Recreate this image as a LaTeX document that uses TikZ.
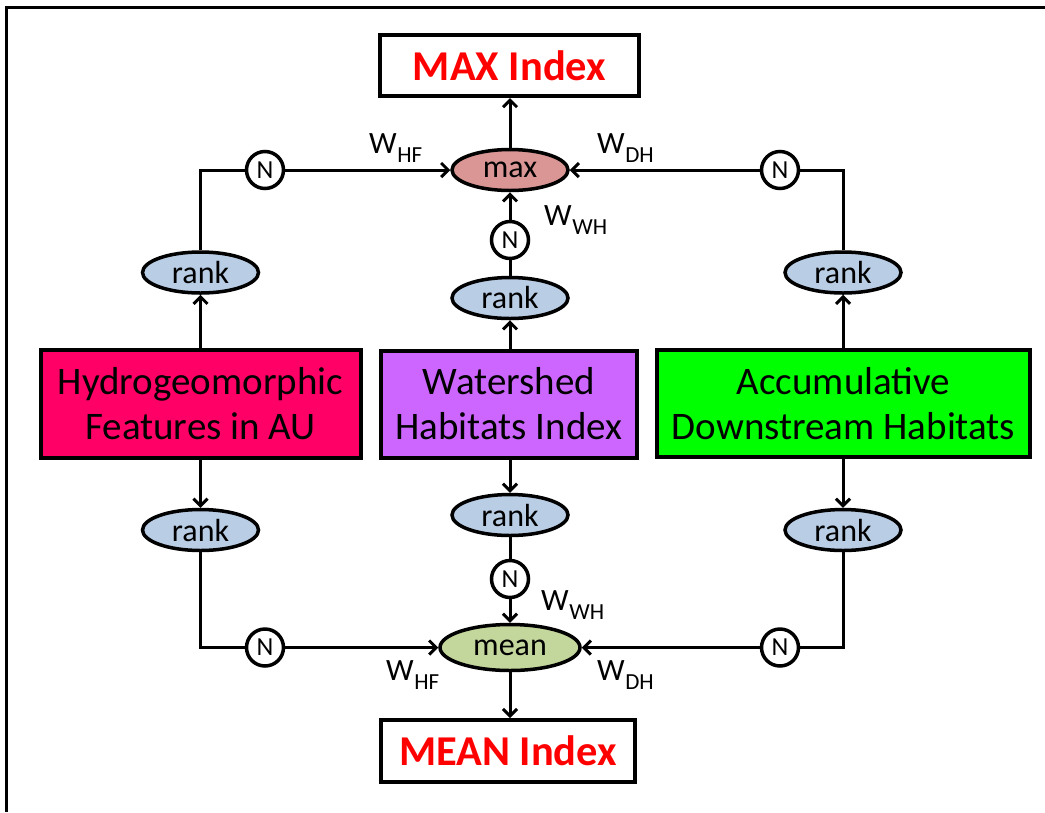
\documentclass[tikz,border=0pt]{standalone}
\usepackage{fontspec}
\setmainfont{Carlito}
\usetikzlibrary{arrows.meta,shapes.geometric}
\definecolor{hfpink}{HTML}{FF0066}
\definecolor{whpurple}{HTML}{CC66FF}
\definecolor{dhgreen}{HTML}{00FF00}
\definecolor{maxfill}{HTML}{D99694}
\definecolor{rankfill}{HTML}{B9CDE5}
\definecolor{meanfill}{HTML}{C3D69B}
\newcommand{\wlab}[1]{W\kern0.5pt\raisebox{-9pt}{\fontsize{23}{23}\selectfont #1}}
\begin{document}
\begin{tikzpicture}[x=1pt,y=-1pt,
  conn/.style={line width=3pt},
  arr/.style={conn,-{Straight Barb[length=7pt,width=14pt]}},
  srcbox/.style={draw,line width=4pt,rectangle,inner sep=0pt,align=center,
    font=\fontsize{39}{45}\selectfont},
  outbox/.style={draw,line width=4pt,rectangle,inner sep=0pt,fill=white,
    text=red,font=\fontsize{42.5}{45}\selectfont\bfseries},
  opnode/.style={draw,line width=3.5pt,ellipse,inner sep=0pt,
    font=\fontsize{32}{34}\selectfont},
  ranknode/.style={opnode,fill=rankfill,minimum width=116pt,minimum height=41pt},
  nnode/.style={draw,line width=3.5pt,circle,inner sep=0pt,minimum size=37pt,
    fill=white,font=\fontsize{26}{28}\selectfont},
  wnode/.style={anchor=base west,inner sep=0pt,font=\fontsize{31}{33}\selectfont}]
\useasboundingbox (0,0) rectangle (1045,812);
% outer frame, running off the right and bottom edges
\draw[line width=3.5pt] (6.5,812) -- (6.5,7.5) -- (1045,7.5);

% result boxes
\node[outbox,minimum width=259pt,minimum height=61pt] (maxidx) at (509.5,65.5) {MAX Index};
\node[outbox,minimum width=254pt,minimum height=62pt] (meanidx) at (508,751) {MEAN Index};

% source indices
\node[srcbox,fill=hfpink,minimum width=320pt,minimum height=108pt] (hf) at (200.5,404) {Hydrogeomorphic\\Features in AU};
\node[srcbox,fill=whpurple,minimum width=256pt,minimum height=107pt] (wh) at (509,404) {Watershed\\Habitats Index};
\node[srcbox,fill=dhgreen,minimum width=373pt,minimum height=107pt] (dh) at (843.5,403.5) {Accumulative\\Downstream Habitats};

% combination operators
\node[opnode,fill=maxfill,minimum width=116pt,minimum height=41pt] (maxop) at (510,170) {max};
\node[opnode,fill=meanfill,minimum width=140pt,minimum height=46pt] (meanop) at (510,647.5) {mean};

% ranking steps
\node[ranknode] (rHFt) at (200.5,272.5) {rank};
\node[ranknode] (rWHt) at (510,298) {rank};
\node[ranknode] (rDHt) at (843,272.5) {rank};
\node[ranknode] (rHFb) at (200.5,530) {rank};
\node[ranknode] (rWHb) at (510,515) {rank};
\node[ranknode] (rDHb) at (843,530) {rank};

% normalisation steps
\node[nnode] (nHFt) at (265,170) {N};
\node[nnode] (nWHt) at (510,240) {N};
\node[nnode] (nDHt) at (780,170) {N};
\node[nnode] (nHFb) at (265,647.5) {N};
\node[nnode] (nWHb) at (510,579) {N};
\node[nnode] (nDHb) at (780,647.5) {N};

% weights
\node[wnode] (wHFt) at (369,153) {\wlab{HF}};
\node[wnode] (wDHt) at (597,153) {\wlab{DH}};
\node[wnode] (wWHt) at (544,225) {\wlab{WH}};
\node[wnode] (wWHb) at (541,610) {\wlab{WH}};
\node[wnode] (wHFb) at (386,680) {\wlab{HF}};
\node[wnode] (wDHb) at (597,680) {\wlab{DH}};

% upper branch
\draw[arr] (hf.north -| rHFt) -- (rHFt.south);
\draw[conn] (rHFt.north) |- (nHFt.west);
\draw[arr] (nHFt.east) -- (maxop.west);
\draw[arr] (wh.north -| rWHt) -- (rWHt.south);
\draw[conn] (rWHt.north) -- (nWHt.south);
\draw[arr] (nWHt.north) -- (maxop.south);
\draw[arr] (dh.north -| rDHt) -- (rDHt.south);
\draw[conn] (rDHt.north) |- (nDHt.east);
\draw[arr] (nDHt.west) -- (maxop.east);
\draw[arr] (maxop.north) -- (maxop.north |- maxidx.south);

% lower branch
\draw[arr] (hf.south -| rHFb) -- (rHFb.north);
\draw[conn] (rHFb.south) |- (nHFb.west);
\draw[arr] (nHFb.east) -- (meanop.west);
\draw[arr] (wh.south -| rWHb) -- (rWHb.north);
\draw[conn] (rWHb.south) -- (nWHb.north);
\draw[arr] (nWHb.south) -- (meanop.north);
\draw[arr] (dh.south -| rDHb) -- (rDHb.north);
\draw[conn] (rDHb.south) |- (nDHb.east);
\draw[arr] (nDHb.west) -- (meanop.east);
\draw[arr] (meanop.south) -- (meanop.south |- meanidx.north);
\end{tikzpicture}
\end{document}
